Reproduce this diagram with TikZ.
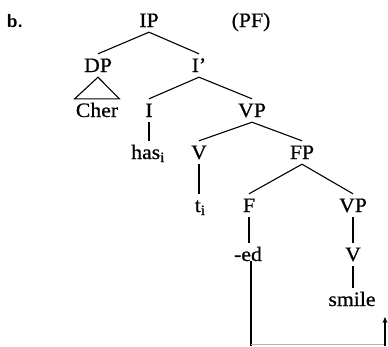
\documentclass[tikz,border=0pt]{standalone}
\usepackage{fontspec}
\setmainfont{Liberation Serif}[FakeStretch=1.06,FakeBold=0.6]
\usetikzlibrary{arrows.meta}
\begin{document}
\begin{tikzpicture}[x=1pt,y=-1pt,
  lab/.style={anchor=base,inner xsep=1pt,inner ysep=5pt,text height=13pt,text depth=0pt,font=\fontsize{20.5}{22}\selectfont},
  br/.style={line width=1.1pt}]
\useasboundingbox (0,0) rectangle (388,346);
\node[lab,font=\fontsize{19}{22}\selectfont\bfseries\sffamily] (b) at (15,27) {b.};
\node[lab] (IP) at (149,27) {IP};
\node[lab] (PF) at (251,27) {(PF)};
\node[lab] (DP) at (98,72) {DP};
\node[lab] (Ib) at (199,72) {I'};
\node[lab] (Cher) at (97,117) {Cher};
\node[lab] (I) at (149,117) {I};
\node[lab] (VP1) at (252,117) {VP};
\node[lab] (has) at (148,159) {has$_{\mathrm{i}}$};
\node[lab] (V1) at (199,159) {V};
\node[lab] (FP) at (302,159) {FP};
\node[lab] (t) at (200,212) {t$_{\mathrm{i}}$};
\node[lab] (F) at (249,212) {F};
\node[lab] (VP2) at (353,212) {VP};
\node[lab] (ed) at (248,261) {-ed};
\node[lab] (V2) at (353,261) {V};
\node[lab] (smile) at (352,306) {smile};
\draw[br] (IP.south) -- (DP.north);
\draw[br] (IP.south) -- (Ib.north);
\draw[br] (DP.south) -- (Cher.north east) -- (Cher.north west) -- cycle;
\draw[br] (Ib.south) -- (I.north);
\draw[br] (Ib.south) -- (VP1.north);
\draw[br] (I.south) -- (I.south |- has.north);
\draw[br] (VP1.south) -- (V1.north);
\draw[br] (VP1.south) -- (FP.north);
\draw[br] (V1.south) -- (V1.south |- t.north);
\draw[br] (FP.south) -- (F.north);
\draw[br] (FP.south) -- (VP2.north);
\draw[br] (F.south) -- (F.south |- ed.north);
\draw[br] (VP2.south) -- (V2.north);
\draw[br] (V2.south) -- (V2.south |- smile.north);
\coordinate (c1) at (251,346);
\coordinate (c2) at (251,344);
\coordinate (c3) at (385,344);
\coordinate (c4) at (385,346);
\coordinate (c5) at (385,317);
\draw[br] (ed.base -| c1) -- (c1);
\draw[line width=1pt,gray!60] (c2) -- (c3);
\draw[br,-{Stealth[length=6pt,width=5pt]}] (c4) -- (c5);
\end{tikzpicture}
\end{document}
